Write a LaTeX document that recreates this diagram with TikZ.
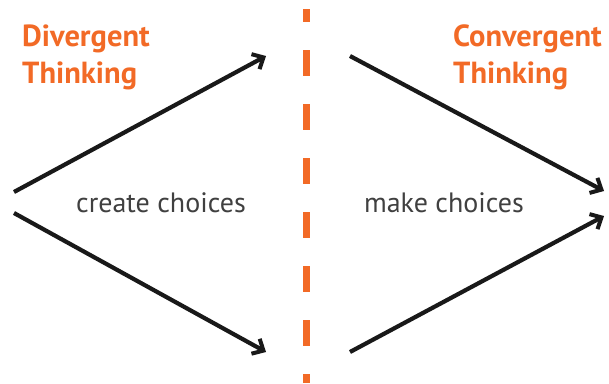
\documentclass[tikz,border=0pt]{standalone}
\usepackage{fontspec}
\setmainfont{PT Sans}
\usetikzlibrary{arrows.meta}

\definecolor{thinkorange}{HTML}{F26A26}
\definecolor{choicegray}{HTML}{404040}

\begin{document}
\begin{tikzpicture}[x=1pt, y=-1pt,
    flow/.style={line width=4.2pt, color=black!90,
      -{Straight Barb[length=9pt, width=17pt, line width=4pt]}},
    title/.style={anchor=base west, inner sep=0pt, text=thinkorange,
      font=\fontsize{30.5}{30}\selectfont\bfseries},
    choice/.style={anchor=base, inner sep=0pt, text=choicegray,
      font=\fontsize{28}{28}\selectfont}]

  % fester Rahmen
  \useasboundingbox (0,0) rectangle (609,383);

  % Endpunkte der Pfeile
  \coordinate (lsup) at (14,192);
  \coordinate (lsdown) at (14,213);
  \coordinate (lup) at (266,56);
  \coordinate (ldown) at (266,352);
  \coordinate (rup) at (350,56);
  \coordinate (rdown) at (350,352);
  \coordinate (reup) at (604,191);
  \coordinate (redown) at (604,216);

  % Trennlinie
  \coordinate (top) at (306,9);
  \coordinate (bot) at (306,383);
  \draw[thinkorange, line width=7pt, dash pattern=on 26pt off 28pt, dash phase=13pt] (top) -- (bot);

  % Überschriften
  \node[title] (div1) at (22,46) {Divergent};
  \node[title] (div2) at (22,83) {Thinking};
  \node[title] (con1) at (453,46) {Convergent};
  \node[title] (con2) at (453,83) {Thinking};

  % Beschriftungen
  \node[choice] (create) at (161,212) {create choices};
  \node[choice] (make) at (444,212) {make choices};

  % Pfeile links (auseinander)
  \draw[flow] (lsup) -- (lup);
  \draw[flow] (lsdown) -- (ldown);

  % Pfeile rechts (zusammen)
  \draw[flow] (rup) -- (reup);
  \draw[flow] (rdown) -- (redown);

\end{tikzpicture}
\end{document}
